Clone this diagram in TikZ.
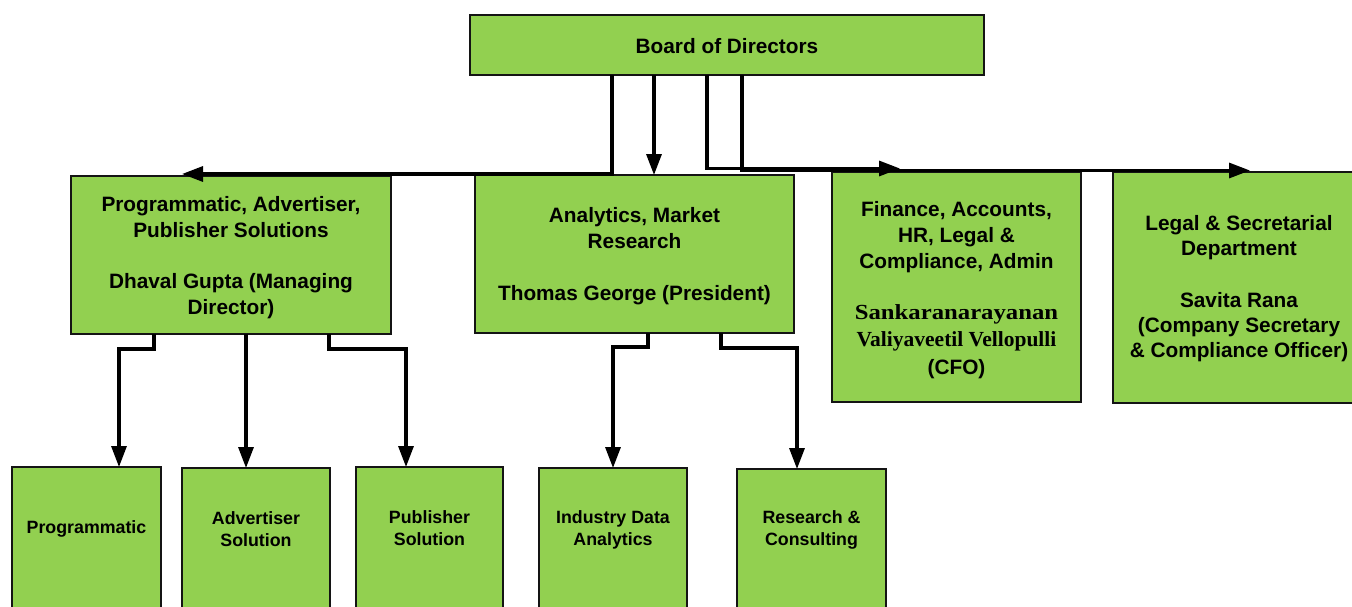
\documentclass[tikz,border=0pt]{standalone}
\usepackage{fontspec}
\setmainfont{Liberation Sans}
\newfontfamily\serifbf{Liberation Serif}
\usepackage{graphicx}
\usetikzlibrary{arrows.meta}
\definecolor{boxgreen}{RGB}{146,208,80}
\definecolor{edgeblack}{RGB}{20,20,20}
\begin{document}
\begin{tikzpicture}[x=1pt,y=-1pt,
  box/.style={draw=edgeblack, line width=2.2pt, fill=boxgreen, rectangle, anchor=north west, inner sep=0pt, outer sep=0pt},
  maintext/.style={align=center, font=\bfseries\fontsize{20.8}{26}\selectfont, inner sep=0pt},
  fintext/.style={align=center, font=\bfseries\fontsize{20.8}{26}\selectfont, inner sep=0pt},
  legaltext/.style={align=center, font=\bfseries\fontsize{20.8}{25}\selectfont, inner sep=0pt},
  smalltext/.style={align=center, font=\bfseries\fontsize{17.8}{22}\selectfont, inner sep=0pt},
  conn/.style={line width=3.2pt, -{Triangle[length=21pt,width=15pt]}}
]
\clip (0,0) rectangle (1352,606);
\fill[white] (0,0) rectangle (1352,606);
% boxes
\node[box, minimum width=514pt, minimum height=60pt] (board) at (470,15) {};
\node[box, minimum width=320pt, minimum height=158pt] (paps) at (71,176) {};
\node[box, minimum width=319pt, minimum height=158pt] (anal) at (475,175) {};
\node[box, minimum width=249pt, minimum height=230pt] (fin) at (832,172) {};
\node[box, minimum width=252pt, minimum height=231pt] (legal) at (1113,172) {};
\node[box, minimum width=149pt, minimum height=160pt] (prog) at (12,467) {};
\node[box, minimum width=148pt, minimum height=160pt] (adv) at (182,468) {};
\node[box, minimum width=147pt, minimum height=160pt] (pub) at (356,467) {};
\node[box, minimum width=148pt, minimum height=160pt] (ind) at (539,468) {};
\node[box, minimum width=149pt, minimum height=160pt] (res) at (737,469) {};
% texts
\node[maintext] (boardt) at ([yshift=-1pt]board.center) {Board of Directors};
\node[maintext] (papst) at ([yshift=-3pt]paps.center) {Programmatic, Advertiser,\\Publisher Solutions\\[25pt]Dhaval Gupta (Managing\\Director)};
\node[maintext] (analt) at ([yshift=-2pt]anal.center) {Analytics, Market\\Research\\[26pt]Thomas George (President)};
\node[fintext] (fint) at ([yshift=-3.5pt]fin.center) {Finance, Accounts,\\HR, Legal \&\\Compliance, Admin\\[25pt]{\serifbf\fontsize{21.5}{24}\selectfont\bfseries\scalebox{1.15}[1]{Sankaranarayanan}}\\[1pt]{\serifbf\fontsize{21.5}{24}\selectfont\bfseries Valiyaveetil Vellopulli}\\[2pt](CFO)};
\node[legaltext] (legalt) at (1239,289) {Legal \& Secretarial\\Department\\[27pt]Savita Rana\\(Company Secretary\\\& Compliance Officer)};
\node[smalltext] (progt) at (prog.north |- 0,529) {Programmatic};
\node[smalltext] (advt) at (adv.north |- 0,529) {Advertiser\\Solution};
\node[smalltext] (pubt) at (pub.north |- 0,528) {Publisher\\Solution};
\node[smalltext] (indt) at (ind.north |- 0,530) {Industry Data\\Analytics};
\node[smalltext] (rest) at (res.north |- 0,530) {Research \&\\Consulting};
% connectors from the board
\draw[conn] ([xshift=142pt]board.south west) |- ([xshift=111pt,yshift=2pt]paps.north west);
\draw[conn] ([xshift=184pt]board.south west) -- ([xshift=179pt]anal.north west);
\draw[conn] ([xshift=237pt]board.south west) |- ([xshift=68pt,yshift=3.5pt]fin.north west);
\draw[conn] ([xshift=272pt]board.south west) |- ([xshift=137pt,yshift=1.5pt]legal.north west);
% connectors to the lower boxes
\draw[conn] ([xshift=83pt]paps.south west) -- ++(0,15) -| ([xshift=107pt]prog.north west);
\draw[conn] ([xshift=175pt]paps.south west) -- ([xshift=64pt]adv.north west);
\draw[conn] ([xshift=258pt]paps.south west) -- ++(0,15) -| ([xshift=50pt]pub.north west);
\draw[conn] ([xshift=173pt]anal.south west) -- ++(0,14) -| ([xshift=74pt]ind.north west);
\draw[conn] ([xshift=246pt]anal.south west) -- ++(0,15) -| ([xshift=60pt]res.north west);
\end{tikzpicture}
\end{document}
